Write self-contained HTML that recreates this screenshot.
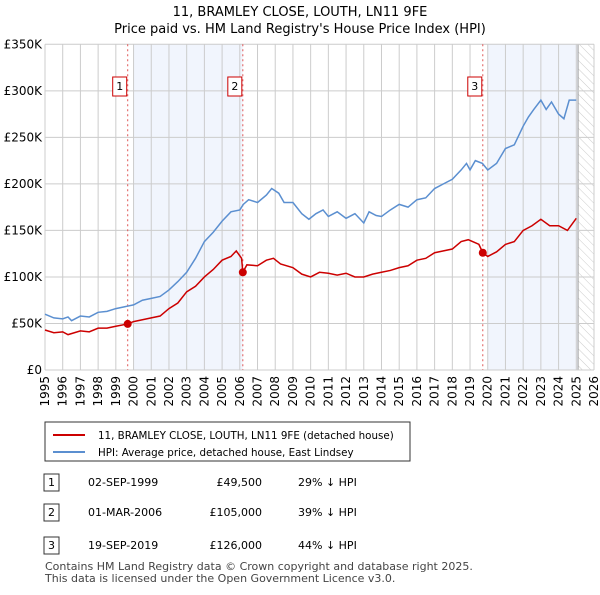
<!DOCTYPE html>
<html><head><meta charset="utf-8"><style>
body{margin:0;background:#fff;font-family:"Liberation Sans","DejaVu Sans",sans-serif;}
svg text{font-family:"DejaVu Sans","Liberation Sans",sans-serif;}
</style></head><body>
<svg id="c" width="600" height="590" xmlns="http://www.w3.org/2000/svg">
<defs><pattern id="hatch" width="6" height="6" patternUnits="userSpaceOnUse" patternTransform="rotate(-45)"><line x1="0" y1="0" x2="0" y2="6" stroke="#ccc" stroke-width="1"/></pattern></defs>
<text x="300" y="16" text-anchor="middle" font-size="13">11, BRAMLEY CLOSE, LOUTH, LN11 9FE</text>
<text x="300" y="33" text-anchor="middle" font-size="13">Price paid vs. HM Land Registry's House Price Index (HPI)</text>
<g id="plot"></g>
<g>
<rect x="45" y="422" width="365" height="39" fill="#fff" stroke="#333" stroke-width="1"/>
<line x1="53" y1="435" x2="85" y2="435" stroke="#cc0000" stroke-width="2"/>
<text x="98" y="439" font-size="10.3">11, BRAMLEY CLOSE, LOUTH, LN11 9FE (detached house)</text>
<line x1="53" y1="452" x2="85" y2="452" stroke="#5b8fd0" stroke-width="2"/>
<text x="98" y="456" font-size="10.3">HPI: Average price, detached house, East Lindsey</text>
</g>
<g font-size="11">
<rect x="44" y="474" width="15" height="17" fill="#fff" stroke="#333"/><text x="51.5" y="486" text-anchor="middle">1</text>
<text x="88" y="486">02-SEP-1999</text><text x="262" y="486" text-anchor="end">£49,500</text><text x="298" y="486">29% ↓ HPI</text>
<rect x="44" y="504" width="15" height="17" fill="#fff" stroke="#333"/><text x="51.5" y="516" text-anchor="middle">2</text>
<text x="88" y="516">01-MAR-2006</text><text x="262" y="516" text-anchor="end">£105,000</text><text x="298" y="516">39% ↓ HPI</text>
<rect x="44" y="537" width="15" height="17" fill="#fff" stroke="#333"/><text x="51.5" y="549" text-anchor="middle">3</text>
<text x="88" y="549">19-SEP-2019</text><text x="262" y="549" text-anchor="end">£126,000</text><text x="298" y="549">44% ↓ HPI</text>
</g>
<text x="45" y="570" font-size="11" fill="#444">Contains HM Land Registry data © Crown copyright and database right 2025.</text>
<text x="45" y="582" font-size="11" fill="#444">This data is licensed under the Open Government Licence v3.0.</text>
</svg>
<script>
const yTicks=[0,50,100,150,200,250,300,350];
const yTickLabels=["£0","£50K","£100K","£150K","£200K","£250K","£300K","£350K"];
const xTicks=[1995,1996,1997,1998,1999,2000,2001,2002,2003,2004,2005,2006,2007,2008,2009,2010,2011,2012,2013,2014,2015,2016,2017,2018,2019,2020,2021,2022,2023,2024,2025,2026];
const hpiT=[1995,1995.5,1996,1996.3,1996.5,1997,1997.5,1998,1998.5,1999,1999.5,2000,2000.5,2001,2001.5,2002,2002.5,2003,2003.5,2004,2004.5,2005,2005.5,2006,2006.2,2006.5,2007,2007.5,2007.8,2008.2,2008.5,2009,2009.5,2009.9,2010.3,2010.7,2011,2011.5,2012,2012.5,2013,2013.3,2013.7,2014,2014.5,2015,2015.5,2016,2016.5,2017,2017.5,2018,2018.5,2018.8,2019,2019.3,2019.7,2020,2020.5,2021,2021.5,2022,2022.3,2022.6,2023,2023.3,2023.6,2024,2024.3,2024.6,2025];
const hpiV=[60,56,55,57,53,58,57,62,63,66,68,70,75,77,79,86,95,105,120,138,148,160,170,172,178,183,180,188,195,190,180,180,168,162,168,172,165,170,163,168,158,170,166,165,172,178,175,183,185,195,200,205,215,222,215,225,222,215,222,238,242,262,272,280,290,280,288,275,270,290,290];
const ppT=[1995,1995.5,1996,1996.3,1997,1997.5,1998,1998.5,1999,1999.67,2000,2000.5,2001,2001.5,2002,2002.5,2003,2003.5,2004,2004.5,2005,2005.5,2005.8,2006.1,2006.17,2006.4,2007,2007.5,2007.9,2008.3,2009,2009.5,2010,2010.5,2011,2011.5,2012,2012.5,2013,2013.5,2014,2014.5,2015,2015.5,2016,2016.5,2017,2017.5,2018,2018.5,2018.9,2019.5,2019.72,2020,2020.5,2021,2021.5,2022,2022.5,2023,2023.5,2024,2024.5,2025];
const ppV=[43,40,41,38,42,41,45,45,47,49.5,52,54,56,58,66,72,84,90,100,108,118,122,128,120,105,113,112,118,120,114,110,103,100,105,104,102,104,100,100,103,105,107,110,112,118,120,126,128,130,138,140,135,126,122,127,135,138,150,155,162,155,155,150,163];
const saleT=[1999.67,2006.17,2019.72];
const saleV=[49.5,105,126];
const saleLabels=["1","2","3"];
const shadeStart=[2000,2020];
const shadeEnd=[2006.17,2025.1];

const X0=45,X1=594,Y0=370,Y1=44.3;
const xs=t=>X0+(t-1995)/31*(X1-X0);
const ys=v=>Y0-v/350*(Y0-Y1);
const NS="http://www.w3.org/2000/svg";
const g=document.getElementById('plot');
function mk(tag,attrs){const e=document.createElementNS(NS,tag);for(const k in attrs)e.setAttribute(k,attrs[k]);g.appendChild(e);return e;}
for(let i=0;i<shadeStart.length;i++){
  const r=mk('rect',{x:xs(shadeStart[i]),y:Y1,width:xs(shadeEnd[i])-xs(shadeStart[i]),height:Y0-Y1,fill:'#f1f5fd'});
  
  
}
const h=mk('rect',{x:xs(2025.1),y:Y1,width:X1-xs(2025.1),height:Y0-Y1,fill:'url(#hatch)'});


mk('line',{x1:xs(2025.1),y1:Y1,x2:xs(2025.1),y2:Y0,stroke:'#999','stroke-width':1});
xTicks.forEach(t=>{
  const l=mk('line',{x1:xs(t),y1:Y1,x2:xs(t),y2:Y0,stroke:'#ccc','stroke-width':1});
  
  
  const tx=mk('text',{x:0,y:0,'font-size':12,transform:`translate(${xs(t)+4},${Y0+6}) rotate(-90)`,'text-anchor':'end'});
  tx.textContent=t;
  
  
});
yTicks.forEach((v,i)=>{
  const l=mk('line',{x1:X0,y1:ys(v),x2:X1,y2:ys(v),stroke:'#ccc','stroke-width':1});
  
  
  const tx=mk('text',{x:X0-3,y:ys(v)+4,'font-size':12,'text-anchor':'end'});
  tx.textContent=yTickLabels[i];
  
  
});
saleT.forEach((t,i)=>{
  const l=mk('line',{x1:xs(t),y1:Y1,x2:xs(t),y2:Y0,stroke:'#e05555','stroke-width':1,'stroke-dasharray':'2,3'});
  
  
  const b=mk('rect',{x:xs(t)-15,y:77,width:14,height:19,fill:'#fff',stroke:'#cc0000','stroke-width':1});
  
  
  const tx=mk('text',{x:xs(t)-8,y:90,'font-size':11,'text-anchor':'middle'});
  tx.textContent=saleLabels[i];
  
  
});
const hp=mk('polyline',{points:hpiT.map((t,i)=>xs(t)+','+ys(hpiV[i])).join(' '),fill:'none',stroke:'#5b8fd0','stroke-width':1.5});


const pp=mk('polyline',{points:ppT.map((t,i)=>xs(t)+','+ys(ppV[i])).join(' '),fill:'none',stroke:'#cc0000','stroke-width':1.5});


saleT.forEach((t,i)=>{
  const c=mk('circle',{cx:xs(t),cy:ys(saleV[i]),r:4,fill:'#cc0000'});
  
  
});
</script>
</body></html>
